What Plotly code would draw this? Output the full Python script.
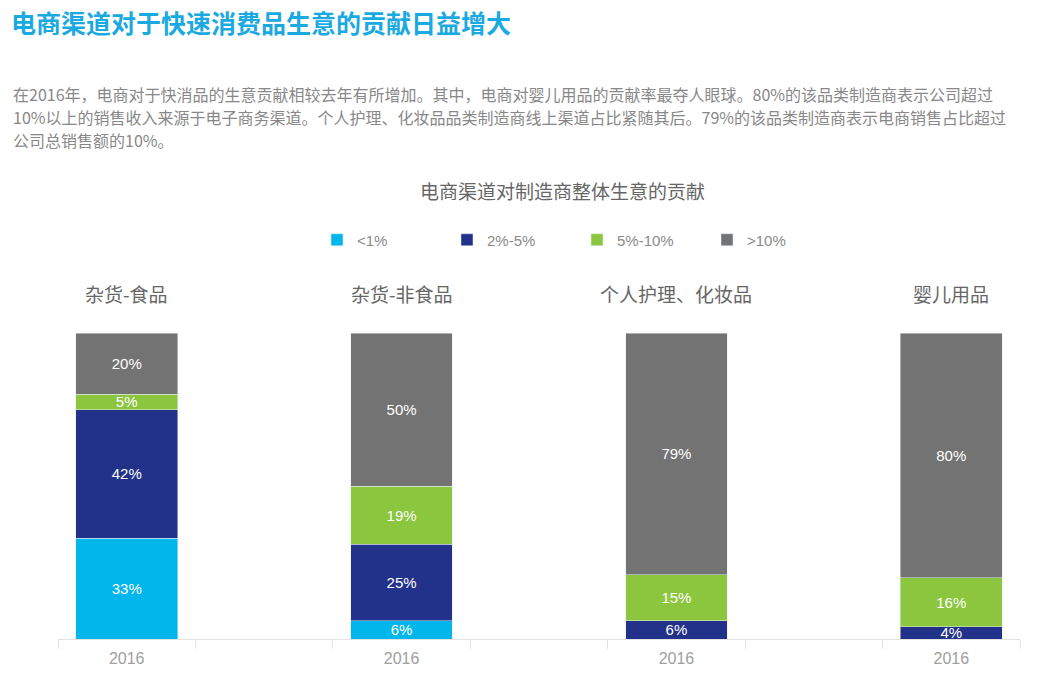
import plotly.graph_objects as go

# data
categories = ['杂货-食品', '杂货-非食品', '个人护理、化妆品', '婴儿用品']
year_labels = ['2016', '2016', '2016', '2016']
series_names = ['<1%', '2%-5%', '5%-10%', '>10%']
lt1 = [33, 6, 0, 0]
p2_5 = [42, 25, 6, 4]
p5_10 = [5, 19, 15, 16]
gt10 = [20, 50, 79, 80]

colors = ['#00B6EB', '#22328A', '#8CC63F', '#737373']
cjk = 'Noto Sans CJK SC'
narrow = 'Liberation Sans Narrow, Liberation Sans, Noto Sans CJK SC'

W, H = 1045, 681
L, R, T, B = 58, 25, 333, 42

def py(y):
    # pixel row -> paper y
    return (H - B - y) / (H - T - B)

def px(x):
    return (x - L) / (W - L - R)

xpos = [2 * i for i in range(len(categories))]

fig = go.Figure()
for name, vals, col in zip(series_names, [lt1, p2_5, p5_10, gt10], colors):
    fig.add_trace(go.Bar(
        x=xpos, y=vals, name=name, marker_color=col, width=0.74,
        text=[f'{v}%' if v else '' for v in vals],
        textposition='inside', insidetextanchor='middle',
        textfont=dict(color='white', size=15, family=narrow),
        constraintext='none', hoverinfo='skip',
    ))

fig.update_layout(
    barmode='stack',
    width=W, height=H,
    margin=dict(l=L, r=R, t=T, b=B),
    plot_bgcolor='white', paper_bgcolor='white',
    font=dict(family=cjk, color='#666666'),
    uniformtext=dict(minsize=15, mode='show'),
    showlegend=True,
    legend=dict(orientation='h', x=px(317), y=py(240), xanchor='left', yanchor='middle',
                entrywidth=85, itemwidth=30, traceorder='normal',
                font=dict(size=15, color='#8a8a8a', family=narrow)),
)
fig.update_xaxes(range=[-0.5, 6.5], tickvals=xpos, ticktext=year_labels, ticks='',
                 showgrid=False, zeroline=False, showline=True, linecolor='#e3e3e3',
                 ticklabelstandoff=5,
                 tickfont=dict(size=16, color='#a0a0a0', family=narrow),
                 minor=dict(tickvals=[i - 0.5 for i in range(8)], ticks='outside',
                            ticklen=9, tickcolor='#e3e3e3', showgrid=False))
fig.update_yaxes(range=[0, 100], visible=False)

# category titles above each bar
for x, c in zip(xpos, categories):
    fig.add_annotation(x=x, y=py(293), xref='x', yref='paper', yanchor='middle', text=c,
                       showarrow=False, font=dict(size=19, color='#666666', family=cjk))

fig.add_annotation(x=px(9), y=py(22), xref='paper', yref='paper', xanchor='left', yanchor='middle',
                   text='<b>电商渠道对于快速消费品生意的贡献日益增大</b>', showarrow=False,
                   font=dict(size=25, color='#1AA9E0', family=cjk))

para_lines = [
    '在2016年，电商对于快消品的生意贡献相较去年有所增加。其中，电商对婴儿用品的贡献率最夺人眼球。80%的该品类制造商表示公司超过',
    '10%以上的销售收入来源于电子商务渠道。个人护理、化妆品品类制造商线上渠道占比紧随其后。79%的该品类制造商表示电商销售占比超过',
    '公司总销售额的10%。',
]
for yy, line in zip([94, 117, 140], para_lines):
    fig.add_annotation(x=px(11), y=py(yy), xref='paper', yref='paper', xanchor='left',
                       yanchor='middle', text=line, showarrow=False,
                       font=dict(size=16, color='#888888', family=cjk))

fig.add_annotation(x=px(562), y=py(190), xref='paper', yref='paper', yanchor='middle',
                   text='电商渠道对制造商整体生意的贡献', showarrow=False,
                   font=dict(size=19, color='#666666', family=cjk))

# drop the default body margin so the figure fills the window
fig.write_html('out.html', config={'displayModeBar': False},
               post_script="document.body.style.margin='0';")
